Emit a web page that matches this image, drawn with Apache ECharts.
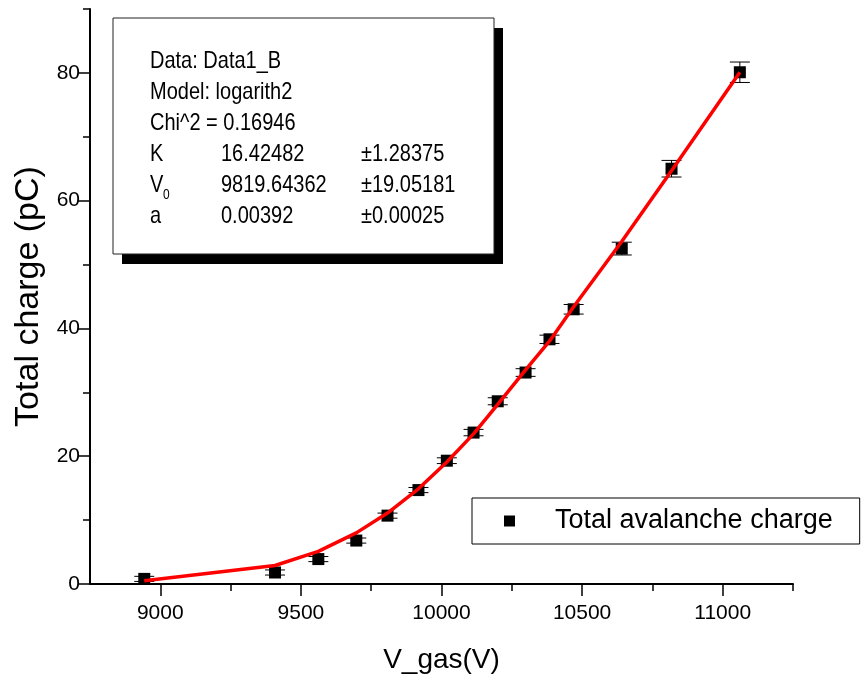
<!DOCTYPE html>
<html>
<head>
<meta charset="utf-8">
<script src="https://cdn.jsdelivr.net/npm/echarts@6/dist/echarts.min.js"></script>
<style>
  html, body { margin: 0; padding: 0; background: #fff; }
  #chart { width: 864px; height: 679px; }
</style>
</head>
<body>
<div id="chart"></div>
<script>
// Gas voltage (V) of each measurement
const voltage = [8943, 9408, 9562, 9697, 9808, 9918, 10019, 10114, 10200, 10299, 10384, 10470, 10641, 10818, 11061];
// Measured total avalanche charge (pC)
const charge = [0.8, 1.8, 3.9, 6.8, 10.7, 14.7, 19.3, 23.7, 28.6, 33.1, 38.3, 43.0, 52.5, 65.0, 80.1];
// Uncertainty of each measured charge (pC)
const chargeErr = [0.4, 0.4, 0.4, 0.4, 0.4, 0.4, 0.45, 0.5, 0.55, 0.6, 0.65, 0.75, 1.0, 1.3, 1.6];
// Fitted charge at each voltage (pC)
const fitCharge = [0.5, 2.9, 5.1, 8.0, 11.1, 14.9, 19.1, 23.5, 28.1, 33.5, 38.0, 43.4, 53.6, 64.7, 80.1];

// Axis tick positions
const xMajorTicks = [9000, 9500, 10000, 10500, 11000];
const xMinorTicks = [9250, 9750, 10250, 10750, 11250];
const yMajorTicks = [0, 20, 40, 60, 80];
const yMinorTicks = [10, 30, 50, 70, 90];

// Fit report
const reportHeader = ['Data: Data1_B', 'Model: logarith2', 'Chi^2 = 0.16946'];
const paramNames = ['K', 'V', 'a'];
const paramSubs = ['', '0', ''];
const paramValues = ['16.42482', '9819.64362', '0.00392'];
const paramErrors = ['\u00b11.28375', '\u00b119.05181', '\u00b10.00025'];

const FONT = '"Liberation Sans", Arial, Helvetica, sans-serif';

const chart = echarts.init(document.getElementById('chart'), null, { renderer: 'canvas' });

// Fit report box built from graphic elements
const box = { x: 113, y: 18, w: 381, h: 236 };
const lineY0 = 61, lineStep = 31, col1 = 150, col2 = 221, col3 = 361;
const reportTextStyle = { fontSize: 20, fontFamily: FONT, fill: '#000', verticalAlign: 'middle', align: 'left' };
const TEXT_STRETCH = 1.18;
const graphics = [
  { type: 'rect', z: 100, shape: { x: box.x + 9, y: box.y + 10, width: box.w, height: box.h }, style: { fill: '#000' } },
  { type: 'rect', z: 101, shape: { x: box.x, y: box.y, width: box.w, height: box.h }, style: { fill: '#fff', stroke: '#222', lineWidth: 1 } }
];
function reportText(x, y, text, extra) {
  return { type: 'text', z: 102, x: x, y: y, scaleY: TEXT_STRETCH, style: Object.assign({ text: text }, reportTextStyle, extra || {}) };
}
reportHeader.forEach((t, i) => {
  graphics.push(reportText(col1, lineY0 + i * lineStep, t));
});
paramNames.forEach((n, i) => {
  const y = lineY0 + (reportHeader.length + i) * lineStep;
  graphics.push(reportText(col1, y, n));
  if (paramSubs[i]) {
    graphics.push(reportText(col1 + 13, y + 10, paramSubs[i], { fontSize: 12 }));
  }
  graphics.push(reportText(col2, y, paramValues[i]));
  graphics.push(reportText(col3, y, paramErrors[i]));
});

const measured = voltage.map((v, i) => [v, charge[i]]);
const errorRanges = voltage.map((v, i) => [v, charge[i] - chargeErr[i], charge[i] + chargeErr[i]]);
const fitted = voltage.map((v, i) => [v, fitCharge[i]]);

const axisBlack = { color: '#000', width: 2 };
const plainNumber = v => String(v);

chart.setOption({
  animation: false,
  backgroundColor: '#fff',
  textStyle: { fontFamily: FONT },
  grid: { left: 90, right: 71, top: 9, bottom: 94, containLabel: false },
  legend: {
    left: 472,
    top: 498,
    data: ['Total avalanche charge'],
    icon: 'rect',
    itemWidth: 11,
    itemHeight: 11,
    padding: [8, 27, 8, 32],
    borderColor: '#000',
    borderWidth: 1,
    borderRadius: 0,
    selectedMode: false,
    itemStyle: { opacity: 1, color: '#000' },
    textStyle: { fontSize: 27, color: '#000', fontFamily: FONT, lineHeight: 30, padding: [0, 0, 0, 35] }
  },
  xAxis: [
    {
      type: 'value', min: 8750, max: 11250, position: 'bottom',
      name: 'V_gas(V)', nameLocation: 'middle', nameGap: 62,
      nameTextStyle: { fontSize: 28, color: '#000', fontFamily: FONT },
      axisLine: { show: true, onZero: false, lineStyle: axisBlack },
      axisTick: { show: true, customValues: xMajorTicks, length: 12, lineStyle: { color: '#000', width: 1.5 } },
      axisLabel: { show: true, customValues: xMajorTicks, formatter: plainNumber, fontSize: 21, color: '#000', fontFamily: FONT, margin: 19 },
      splitLine: { show: false }
    },
    {
      type: 'value', min: 8750, max: 11250, position: 'bottom',
      axisLine: { show: false },
      axisTick: { show: true, customValues: xMinorTicks, length: 7, lineStyle: { color: '#000', width: 1.5 } },
      axisLabel: { show: false },
      splitLine: { show: false }
    }
  ],
  yAxis: [
    {
      type: 'value', min: 0, max: 90, position: 'left',
      name: 'Total charge (pC)', nameLocation: 'middle', nameGap: 44,
      nameTextStyle: { fontSize: 34, color: '#000', fontFamily: FONT },
      axisLine: { show: true, onZero: false, lineStyle: axisBlack },
      axisTick: { show: true, customValues: yMajorTicks, length: 12, lineStyle: { color: '#000', width: 1.5 } },
      axisLabel: { show: true, customValues: yMajorTicks, formatter: plainNumber, fontSize: 21, color: '#000', fontFamily: FONT, margin: 10 },
      splitLine: { show: false }
    },
    {
      type: 'value', min: 0, max: 90, position: 'left',
      axisLine: { show: false },
      axisTick: { show: true, customValues: yMinorTicks, length: 7, lineStyle: { color: '#000', width: 1.5 } },
      axisLabel: { show: false },
      splitLine: { show: false }
    }
  ],
  series: [
    {
      name: 'Error',
      type: 'custom',
      xAxisIndex: 0, yAxisIndex: 0,
      z: 2,
      silent: true,
      data: errorRanges,
      encode: { x: 0, y: [1, 2] },
      renderItem: function (params, api) {
        const v = api.value(0);
        const lo = api.coord([v, api.value(1)]);
        const hi = api.coord([v, api.value(2)]);
        const half = 10;
        const st = { stroke: '#000', lineWidth: 1 };
        return {
          type: 'group',
          children: [
            { type: 'line', shape: { x1: lo[0], y1: lo[1], x2: hi[0], y2: hi[1] }, style: st },
            { type: 'line', shape: { x1: lo[0] - half, y1: lo[1], x2: lo[0] + half, y2: lo[1] }, style: st },
            { type: 'line', shape: { x1: hi[0] - half, y1: hi[1], x2: hi[0] + half, y2: hi[1] }, style: st }
          ]
        };
      }
    },
    {
      name: 'Total avalanche charge',
      type: 'scatter',
      xAxisIndex: 0, yAxisIndex: 0,
      z: 3,
      symbol: 'rect',
      symbolSize: 12,
      itemStyle: { color: '#000', opacity: 1 },
      data: measured
    },
    {
      name: 'Fit',
      type: 'line',
      xAxisIndex: 0, yAxisIndex: 0,
      z: 4,
      showSymbol: false,
      symbol: 'none',
      lineStyle: { color: '#ff0000', width: 3.5 },
      data: fitted
    }
  ],
  graphic: graphics
});
</script>
</body>
</html>
